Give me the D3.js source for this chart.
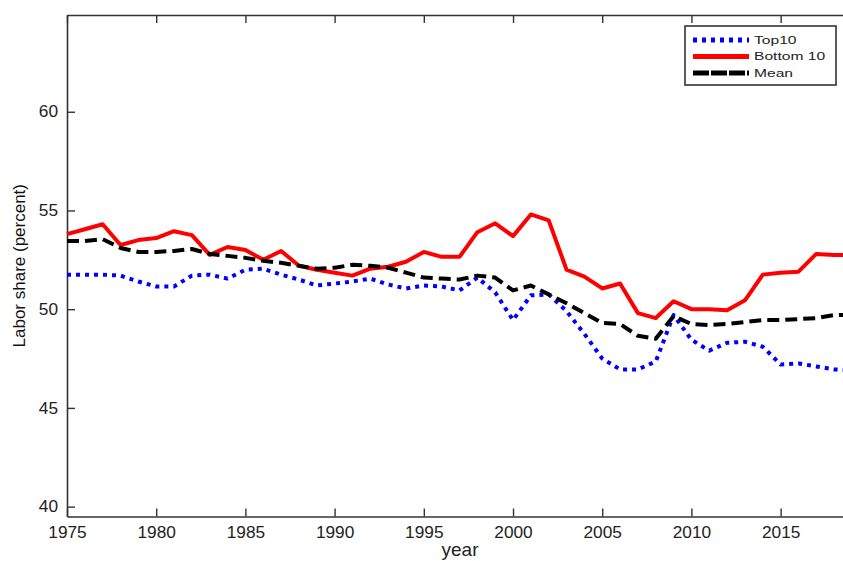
<!DOCTYPE html>
<html>
<head>
<meta charset="utf-8">
<script src="https://cdn.jsdelivr.net/npm/d3@7"></script>
<style>
  body { margin: 0; background: #fff; }
  text { font-family: "Liberation Sans", Arial, sans-serif; }
</style>
</head>
<body>
<svg id="chart" width="843" height="561"></svg>
<script>
// data
const years = d3.range(1975, 2020);
const top10 = [51.75, 51.75, 51.75, 51.7, 51.4, 51.15, 51.15, 51.7, 51.75, 51.55,
               52.0, 52.05, 51.75, 51.5, 51.2, 51.3, 51.4, 51.55, 51.25, 51.05,
               51.2, 51.15, 50.95, 51.6, 50.85, 49.45, 50.7, 50.75, 49.9, 48.75,
               47.5, 46.95, 46.95, 47.35, 49.7, 48.45, 47.9, 48.3, 48.35, 48.1,
               47.2, 47.25, 47.1, 46.95, 46.9];
const bottom10 = [53.8, 54.05, 54.3, 53.25, 53.5, 53.6, 53.95, 53.75, 52.75, 53.15,
                  53.0, 52.5, 52.95, 52.2, 52.0, 51.85, 51.7, 52.05, 52.15, 52.4,
                  52.9, 52.65, 52.65, 53.9, 54.35, 53.7, 54.8, 54.5, 52.0, 51.65,
                  51.05, 51.3, 49.8, 49.55, 50.4, 50.0, 50.0, 49.95, 50.45, 51.75,
                  51.85, 51.9, 52.8, 52.75, 52.75];
const mean = [53.45, 53.45, 53.55, 53.1, 52.9, 52.9, 52.95, 53.05, 52.8, 52.7,
              52.6, 52.45, 52.35, 52.2, 52.05, 52.1, 52.25, 52.2, 52.1, 51.85,
              51.6, 51.55, 51.5, 51.7, 51.6, 50.95, 51.2, 50.75, 50.3, 49.8,
              49.3, 49.25, 48.65, 48.5, 49.65, 49.25, 49.2, 49.25, 49.35, 49.45,
              49.45, 49.5, 49.55, 49.7, 49.7];
const xTicks = [1975, 1980, 1985, 1990, 1995, 2000, 2005, 2010, 2015];
const yTicks = [40, 45, 50, 55, 60];
const seriesNames = ["Top10", "Bottom 10", "Mean"];

const svg = d3.select("#chart");
const axisColor = "#333";

// plot runs past the right edge of the window, like the original crop
const x = d3.scaleLinear().domain([1975, 2019]).range([67, 852]);
const y = d3.scaleLinear().domain([39.5, 64.9]).range([516.5, 15]);

const styles = [
  {data: top10, color: "#0000ff", width: 4, dash: "4,5"},
  {data: bottom10, color: "#ff0000", width: 4, dash: null},
  {data: mean, color: "#000000", width: 4, dash: "12,6"}
];

// axes with inward ticks
const bottomAxis = svg.append("g")
  .attr("transform", `translate(0,${y(39.5)})`)
  .call(d3.axisBottom(x).tickValues(xTicks).tickFormat(d3.format("d"))
    .tickSizeInner(-8).tickSizeOuter(0).tickPadding(10));
bottomAxis.selectAll("text")
  .attr("transform", "scale(1.08,1)")
  .attr("x", 0);

const leftAxis = svg.append("g")
  .attr("transform", `translate(${x(1975)},0)`)
  .call(d3.axisLeft(y).tickValues(yTicks).tickSizeInner(-8).tickSizeOuter(0));
leftAxis.selectAll("text")
  .attr("x", 0)
  .attr("transform", "translate(-9,0) scale(1.08,1)");

svg.append("g")
  .attr("transform", `translate(0,${y(64.9)})`)
  .call(d3.axisTop(x).tickValues(xTicks).tickFormat("")
    .tickSizeInner(-8).tickSizeOuter(0));

svg.selectAll(".domain").attr("stroke", axisColor).attr("stroke-width", 1.6);
svg.selectAll(".tick line").attr("stroke", axisColor).attr("stroke-width", 1.4);
svg.selectAll(".tick text")
  .attr("font-size", 16)
  .attr("fill", "#222")
  .style("font-family", "'Liberation Sans', Arial, sans-serif");

// lines
const line = d3.line()
  .x((d, i) => x(years[i]))
  .y(d => y(d));

styles.forEach(s => {
  svg.append("path")
    .datum(s.data)
    .attr("fill", "none")
    .attr("stroke", s.color)
    .attr("stroke-width", s.width)
    .attr("stroke-dasharray", s.dash)
    .attr("stroke-linejoin", "round")
    .attr("d", line);
});

// axis labels
svg.append("text")
  .attr("transform", `translate(25,${(y(39.5) + y(64.9)) / 2}) rotate(-90)`)
  .attr("text-anchor", "middle")
  .attr("font-size", 17)
  .attr("fill", "#111")
  .text("Labor share (percent)");

svg.append("text")
  .attr("x", 460)
  .attr("y", 556)
  .attr("text-anchor", "middle")
  .attr("font-size", 19)
  .attr("fill", "#222")
  .text("year");

// legend
const legend = svg.append("g");
legend.append("rect")
  .attr("x", 685).attr("y", 26)
  .attr("width", 151).attr("height", 59)
  .attr("fill", "#fff")
  .attr("stroke", axisColor)
  .attr("stroke-width", 1.6);

const rowY = d3.scalePoint().domain(seriesNames).range([40, 73]);
seriesNames.forEach((name, i) => {
  const s = styles[i];
  legend.append("line")
    .attr("x1", 693).attr("x2", 749)
    .attr("y1", rowY(name)).attr("y2", rowY(name))
    .attr("stroke", s.color)
    .attr("stroke-width", 5)
    .attr("stroke-dasharray", i === 2 ? "16,2" : s.dash);
  legend.append("text")
    .attr("transform", `translate(754,${rowY(name)}) scale(1.42,1)`)
    .attr("dy", "0.36em")
    .attr("font-size", 11)
    .attr("fill", "#222")
    .text(name);
});
</script>
</body>
</html>
